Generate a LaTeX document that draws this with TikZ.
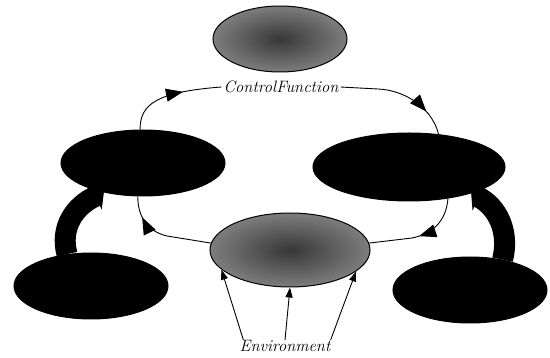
\documentclass[tikz,border=0pt]{standalone}
\usetikzlibrary{arrows.meta,shapes.geometric,decorations.markings}
\definecolor{gfill}{RGB}{125,125,125}
\definecolor{gdark}{RGB}{55,55,55}
\begin{document}
\begin{tikzpicture}[x=1pt,y=-1pt,
  ell/.style={ellipse,draw=black,line width=1pt,inner sep=0pt},
  blk/.style={ell,fill=black},
  gry/.style={ell,inner color=gdark,outer color=gfill},
  lbl/.style={font=\fontsize{16.5}{18}\selectfont\itshape,inner sep=2pt},
  cyc/.style={line width=0.9pt},
  midarrow/.style={postaction={decorate},decoration={markings,
     mark=at position #1 with {\arrow{Triangle[length=17pt,width=13pt]}}}},
  envarrow/.style={line width=0.9pt,-{Triangle[length=10pt,width=7pt]}},
  fat/.style={line width=21pt,-{Triangle[length=9pt,width=29pt]}}
]
\useasboundingbox (0,0) rectangle (550,358);

% ellipses
\node[gry,minimum width=134pt,minimum height=66pt] (T) at (280,39) {};
\node[blk,minimum width=164pt,minimum height=66pt] (L) at (143,163) {};
\node[blk,minimum width=192pt,minimum height=68pt] (R) at (409,167) {};
\node[gry,minimum width=160pt,minimum height=74pt] (B) at (290,250) {};
\node[blk,minimum width=154pt,minimum height=66pt] (BL) at (91,286) {};
\node[blk,minimum width=154pt,minimum height=66pt] (BR) at (470,290) {};

% labels
\node[lbl] (cf) at (281,87) {ControlFunction};
\node[lbl] (env) at (285,346) {Environment};

% thick arrows
\draw[fat] (BL.127) .. controls (60,228) and (74,206) .. (L.217);
\draw[fat] (BR.43) .. controls (510,230) and (496,206) .. (R.-23);

% cycle connectors
\draw[cyc,midarrow=0.62] (L.95) .. controls (140,105) and (155,92) .. (cf.west);
\draw[cyc,midarrow=0.78] (cf.east) -- (378,89) .. controls (405,90) and (432,108) .. (R.48);
\draw[cyc,midarrow=0.5] (R.-39) .. controls (446,222) and (432,234) .. (412,238) -- (B.5);
\draw[cyc,midarrow=0.78] (B.175) -- (167,236) .. controls (150,232) and (138,220) .. (L.-99);

% environment arrows
\draw[envarrow] ([xshift=6pt,yshift=-2pt]env.north west) -- (B.196);
\draw[envarrow] ([yshift=-2pt]env.north) -- (B.south);
\draw[envarrow] ([xshift=-2pt,yshift=-2pt]env.north east) -- (B.-18);
\end{tikzpicture}
\end{document}
